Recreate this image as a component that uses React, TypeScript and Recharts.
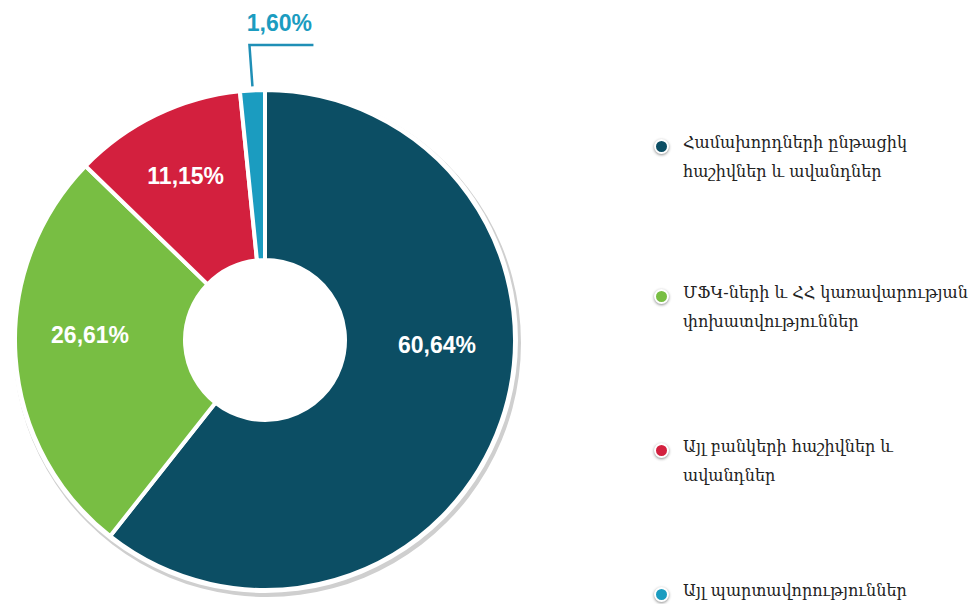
import { Legend, Pie, PieChart } from 'recharts'

const categories = [
  'Համախորդների ընթացիկ\nհաշիվներ և ավանդներ',
  'ՄՖԿ-ների և ՀՀ կառավարության\nփոխատվություններ',
  'Այլ բանկերի հաշիվներ և\nավանդներ',
  'Այլ պարտավորություններ',
]
const shares = [60.64, 26.61, 11.15, 1.6]
const colors = ['#0c4e64', '#78be43', '#d3203e', '#1b9cc0']

const data = categories.map((name, i) => ({ name, value: shares[i], fill: colors[i] }))
const ringData = [{ name: 'ring', value: 1 }]

const RAD = Math.PI / 180
// chart has a 5px default margin, so these are offset by it
const CX = 260
const CY = 335
const INNER = 80
const OUTER = 250

// label placement tweaks (radius, angle shift in degrees)
const labelRadius = [172, 175, 182]
const labelShift = [17.5, -5.4, 0]
const legendTops = [128, 278, 432, 576]

const fmt = (v: number) => v.toFixed(2).replace('.', ',') + '%'

const renderLabel = (props: any) => {
  const { cx, cy, midAngle, outerRadius, index, value } = props
  if (index === 3) {
    const sx = cx + outerRadius * Math.cos(-midAngle * RAD)
    const sy = cy + outerRadius * Math.sin(-midAngle * RAD)
    const ty = cy - outerRadius - 45
    return (
      <g>
        <polyline
          points={`${sx},${sy - 4} ${sx - 3},${ty} ${sx + 61},${ty}`}
          fill='none'
          stroke='#1f8fb6'
          strokeWidth={2.5}
        />
        <text
          x={sx + 27}
          y={ty - 22}
          textAnchor='middle'
          dominantBaseline='central'
          fill='#1b9cc0'
          fontFamily='Liberation Sans, Arial, sans-serif'
          fontWeight='bold'
          fontSize={23}
        >
          {fmt(value)}
        </text>
      </g>
    )
  }
  const a = midAngle + labelShift[index]
  const r = labelRadius[index]
  const x = cx + r * Math.cos(-a * RAD)
  const y = cy + r * Math.sin(-a * RAD)
  return (
    <text
      x={x}
      y={y}
      textAnchor='middle'
      dominantBaseline='central'
      fill='#ffffff'
      fontFamily='Liberation Sans, Arial, sans-serif'
      fontWeight='bold'
      fontSize={23}
    >
      {fmt(value)}
    </text>
  )
}

const renderLegend = () => (
  <div style={{ position: 'relative', width: 980, height: 604 }}>
    {data.map((d, i) => (
      <div key={d.name} style={{ position: 'absolute', left: 654, top: legendTops[i] }}>
        <div
          style={{
            position: 'absolute',
            left: 0,
            top: 11,
            width: 11,
            height: 11,
            borderRadius: '50%',
            background: d.fill,
            border: '2px solid #ffffff',
            boxShadow: '0 1px 3px rgba(0,0,0,0.45)',
          }}
        />
        <div
          style={{
            position: 'absolute',
            left: 29,
            top: 0,
            whiteSpace: 'pre',
            fontFamily: 'DejaVu Serif, serif',
            fontSize: 16,
            lineHeight: '29px',
            color: '#222222',
          }}
        >
          {d.name}
        </div>
      </div>
    ))}
  </div>
)

export default function App() {
  return (
    <div style={{ position: 'absolute', left: 0, top: 0, width: 980, height: 604, background: '#ffffff' }}>
      <PieChart width={980} height={604}>
        <Pie
          data={ringData}
          dataKey='value'
          cx={CX + 2}
          cy={CY + 3}
          innerRadius={0}
          outerRadius={OUTER + 4}
          fill='#cfcfcf'
          stroke='none'
          isAnimationActive={false}
        />
        <Pie
          data={ringData}
          dataKey='value'
          cx={CX}
          cy={CY}
          innerRadius={0}
          outerRadius={OUTER + 3}
          fill='#ffffff'
          stroke='none'
          isAnimationActive={false}
        />
        <Pie
          data={data}
          dataKey='value'
          nameKey='name'
          cx={CX}
          cy={CY}
          innerRadius={INNER}
          outerRadius={OUTER}
          startAngle={90}
          endAngle={-270}
          stroke='#ffffff'
          strokeWidth={4}
          label={renderLabel}
          labelLine={false}
          isAnimationActive={false}
        />
        <Legend
          content={renderLegend}
          wrapperStyle={{ position: 'absolute', left: 0, top: 0, width: 980, height: 604 }}
        />
      </PieChart>
    </div>
  )
}
